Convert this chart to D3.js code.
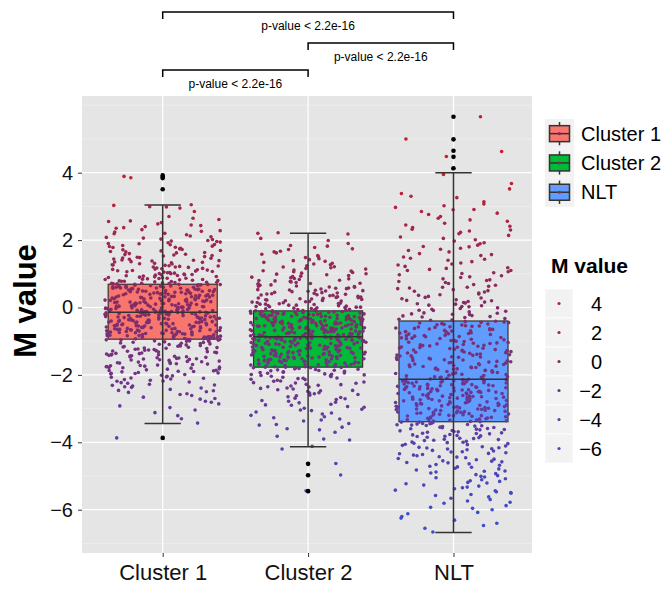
<!DOCTYPE html>
<html>
<head>
<meta charset="utf-8">
<script src="https://cdn.jsdelivr.net/npm/d3@7"></script>
<style>
  body { margin: 0; background: #fff; }
  text { font-family: "Liberation Sans", Arial, sans-serif; }
</style>
</head>
<body>
<script>
// categories and box colours
var groups = ["Cluster 1", "Cluster 2", "NLT"];
var boxFills = ["#F8766D", "#00BA38", "#619CFF"];

// box summary: q1, median, q3, lower whisker, upper whisker
var q1 = [-0.94, -1.77, -3.39];
var medians = [-0.14, -0.87, -2.13];
var q3 = [0.69, -0.10, -0.40];
var whiskLow = [-3.44, -4.13, -6.68];
var whiskHigh = [3.04, 2.20, 4.00];
var outliers = [
  [3.92, 3.87, 3.84, 3.51, -3.87],
  [-4.64, -4.98, -5.45],
  [5.66, 4.99, 4.65, 4.47, 4.13]
];

// jittered M values per group (two batches each)
var cluster1Values = [-3.87,-3.43,-3.21,-3.04,-2.97,-2.86,-2.81,-2.72,-2.7,-2.61,
-2.58,-2.52,-2.47,-2.46,-2.39,-2.35,-2.31,-2.3,-2.25,-2.21,
-2.19,-2.16,-2.1,-2.09,-2.06,-2.03,-2.01,-1.97,-1.95,-1.93,
-1.89,-1.87,-1.85,-1.8,-1.78,-1.77,-1.73,-1.72,-1.68,-1.65,
-1.63,-1.62,-1.57,-1.55,-1.54,-1.5,-1.49,-1.47,-1.45,-1.41,
-1.4,-1.38,-1.35,-1.34,-1.3,-1.29,-1.28,-1.25,-1.22,-1.21,
-1.18,-1.17,-1.13,-1.12,-1.11,-1.08,-1.06,-1.05,-1.02,-1.01,
-0.99,-0.98,-0.96,-0.96,-0.94,-0.93,-0.92,-0.9,-0.89,-0.88,
-0.87,-0.87,-0.85,-0.84,-0.82,-0.81,-0.81,-0.79,-0.78,-0.76,
-0.76,-0.75,-0.73,-0.72,-0.71,-0.71,-0.69,-0.68,-0.67,-0.66,
-0.65,-0.63,-0.63,-0.62,-0.6,-0.59,-0.59,-0.57,-0.56,-0.55,
-0.54,-0.53,-0.51,-0.51,-0.49,-0.48,-0.47,-0.46,-0.44,-0.44,
-0.43,-0.42,-0.4,-0.4,-0.38,-0.37,-0.36,-0.34,-0.34,-0.33,
-0.32,-0.3,-0.3,-0.29,-0.28,-0.26,-0.26,-0.24,-0.23,-0.22,
-0.21,-0.2,-0.19,-0.18,-0.17,-0.16,-0.15,-0.15,-0.14,-0.14,
-0.13,-0.12,-0.1,-0.1,-0.08,-0.07,-0.06,-0.05,-0.03,-0.03,
-0.02,-0.01,0.0,0.02,0.03,0.04,0.04,0.06,0.07,0.08,
0.1,0.11,0.11,0.13,0.14,0.15,0.17,0.18,0.18,0.2,
0.21,0.22,0.24,0.25,0.25,0.27,0.28,0.29,0.31,0.32,
0.33,0.33,0.35,0.36,0.38,0.39,0.39,0.41,0.42,0.43,
0.45,0.46,0.47,0.47,0.49,0.5,0.52,0.53,0.53,0.55,
0.56,0.57,0.59,0.6,0.6,0.62,0.63,0.64,0.66,0.67,
0.68,0.69,0.7,0.72,0.73,0.75,0.76,0.78,0.79,0.81,
0.83,0.84,0.86,0.88,0.89,0.91,0.93,0.95,0.97,0.98,
1.0,1.02,1.04,1.06,1.07,1.1,1.12,1.13,1.16,1.19,
1.2,1.23,1.26,1.27,1.31,1.33,1.35,1.38,1.41,1.43,
1.47,1.49,1.53,1.56,1.58,1.62,1.66,1.68,1.72,1.76,
1.79,1.82,1.87,1.9,1.94,1.97,2.02,2.06,2.1,2.16,
2.19,2.24,2.28,2.35,2.4,2.45,2.52,2.57,2.65,2.95,
2.98,3.05,3.85,3.89];

var cluster1More = [-3.3,-3.12,-2.92,-2.78,-2.66,-2.56,-2.5,-2.43,-2.37,-2.33,
-2.28,-2.23,-2.18,-2.14,-2.12,-2.07,-2.04,
-1.99,-1.96,-1.94,-1.91,-1.9,-1.88,-1.86,-1.83,-1.82,-1.79,
-1.76,-1.75,-1.74,-1.71,-1.69,-1.67,-1.66,-1.64,-1.61,-1.6,
-1.59,-1.56,-1.53,-1.52,-1.51,-1.48,-1.46,-1.44,-1.43,-1.42,
-1.39,-1.37,-1.36,-1.33,-1.32,-1.31,-1.27,-1.26,-1.24,-1.23,
-1.2,-1.19,-1.16,-1.15,-1.14,-1.1,-1.09,-1.07,-1.04,-1.03,
-1.0,-0.99,-0.97,-0.95,-0.94,
-0.93,-0.92,-0.91,-0.9,-0.88,-0.87,-0.86,-0.85,-0.84,-0.83,
-0.82,-0.8,-0.79,-0.78,-0.77,-0.77,-0.75,-0.74,-0.73,-0.72,
-0.7,-0.69,-0.68,-0.67,-0.66,-0.65,-0.64,-0.62,-0.61,-0.6,
-0.58,-0.57,-0.56,-0.55,-0.54,-0.52,-0.52,-0.5,-0.49,-0.48,
-0.47,-0.45,-0.45,-0.43,-0.42,-0.41,-0.39,-0.39,-0.37,-0.36,
-0.35,-0.35,-0.33,-0.32,-0.31,-0.29,-0.28,-0.27,-0.27,-0.25,
-0.24,-0.23,-0.22,-0.21,-0.2,-0.19,-0.18,-0.17,-0.16,-0.16,
-0.15,-0.15,-0.14,-0.14,-0.13,-0.12,-0.11,-0.11,
-0.09,-0.09,-0.08,-0.06,-0.05,-0.04,-0.04,-0.02,-0.01,0.01,
0.01,0.02,0.03,0.05,0.05,0.06,0.08,0.09,0.09,0.11,
0.12,0.13,0.14,0.16,0.16,0.17,0.19,0.2,0.21,0.22,
0.23,0.24,0.26,0.26,0.28,0.29,0.3,0.31,0.32,0.34,
0.34,0.36,0.37,0.38,0.4,0.4,0.41,0.43,0.44,0.45,
0.46,0.48,0.48,0.5,0.51,0.52,0.54,0.54,0.55,0.57,
0.58,0.58,0.6,0.61,0.62,0.64,0.65,0.65,0.67,0.68,
0.69,0.7,0.71,0.72,0.74,0.75,0.77,0.78,
0.8,0.82,0.83,0.85,0.87,0.87,0.9,0.92,0.94,0.96,
0.97,0.99,1.01,1.03,1.05,1.08,1.09,1.11,1.14,1.15,
1.17,1.2,1.22,1.24,1.25,1.29,1.3,1.34,1.36,1.39,
1.4,1.44,1.46,1.48,1.51,1.54,1.57,1.6,1.63,1.65,
1.69,1.71,1.74,1.78,1.81,1.84,1.86,1.89,1.92,1.96,
1.99,2.03,2.08,2.12,2.2,
2.26,2.31,2.37,2.43,2.48,2.55,2.61,2.7,2.85,2.99,3.03];

var cluster2Values = [-5.44,-4.97,-4.63,-4.12,-3.93,-3.9,-3.7,-3.63,-3.55,-3.49,
-3.44,-3.37,-3.31,-3.27,-3.2,-3.16,-3.1,-3.06,-3.02,-2.99,
-2.94,-2.9,-2.87,-2.83,-2.78,-2.76,-2.71,-2.69,-2.65,-2.62,
-2.58,-2.56,-2.53,-2.49,-2.47,-2.44,-2.4,-2.39,-2.36,-2.33,
-2.31,-2.28,-2.25,-2.23,-2.21,-2.18,-2.16,-2.13,-2.11,-2.09,
-2.07,-2.04,-2.03,-2.0,-1.99,-1.97,-1.94,-1.93,-1.91,-1.89,
-1.87,-1.85,-1.84,-1.82,-1.81,-1.79,-1.78,-1.77,-1.76,-1.74,
-1.73,-1.72,-1.7,-1.69,-1.68,-1.67,-1.65,-1.64,-1.63,-1.62,
-1.61,-1.59,-1.58,-1.57,-1.56,-1.55,-1.53,-1.52,-1.51,-1.5,
-1.49,-1.47,-1.46,-1.45,-1.44,-1.43,-1.41,-1.4,-1.39,-1.38,
-1.37,-1.36,-1.34,-1.33,-1.32,-1.31,-1.3,-1.28,-1.28,-1.26,
-1.25,-1.24,-1.23,-1.21,-1.21,-1.19,-1.18,-1.17,-1.16,-1.15,
-1.14,-1.12,-1.12,-1.1,-1.09,-1.08,-1.07,-1.06,-1.04,-1.04,
-1.03,-1.01,-1.0,-0.99,-0.98,-0.97,-0.96,-0.95,-0.94,-0.93,
-0.92,-0.91,-0.9,-0.9,-0.89,-0.88,-0.88,-0.87,-0.87,-0.86,
-0.85,-0.84,-0.84,-0.82,-0.81,-0.8,-0.79,-0.78,-0.76,-0.76,
-0.75,-0.74,-0.72,-0.72,-0.71,-0.7,-0.68,-0.68,-0.67,-0.65,
-0.65,-0.64,-0.62,-0.62,-0.61,-0.6,-0.58,-0.58,-0.57,-0.56,
-0.55,-0.53,-0.53,-0.52,-0.5,-0.5,-0.49,-0.47,-0.47,-0.46,
-0.45,-0.44,-0.42,-0.42,-0.41,-0.39,-0.39,-0.38,-0.36,-0.36,
-0.35,-0.34,-0.32,-0.32,-0.31,-0.3,-0.28,-0.28,-0.26,-0.26,
-0.25,-0.23,-0.23,-0.22,-0.2,-0.2,-0.19,-0.17,-0.17,-0.16,
-0.15,-0.14,-0.12,-0.12,-0.11,-0.1,-0.08,-0.06,-0.05,-0.02,
0.0,0.01,0.04,0.06,0.07,0.1,0.12,0.13,0.16,0.18,
0.2,0.22,0.24,0.27,0.29,0.31,0.33,0.36,0.38,0.41,
0.43,0.45,0.48,0.51,0.53,0.56,0.58,0.61,0.64,0.67,
0.7,0.72,0.76,0.79,0.81,0.85,0.88,0.92,0.95,0.99,
1.02,1.06,1.09,1.14,1.18,1.21,1.27,1.31,1.37,1.42,
1.48,1.54,1.62,1.67,1.72,1.78,1.84,1.99,2.18,2.22];

var cluster2More = [-4.2,-3.82,-3.6,-3.47,-3.34,-3.24,-3.13,-3.04,-2.96,-2.89,
-2.81,-2.73,-2.67,-2.6,-2.54,-2.46,-2.42,-2.35,-2.29,-2.24,
-2.19,-2.14,-2.1,-2.05,-2.02,-1.98,-1.95,-1.92,-1.88,-1.86,
-1.83,-1.8,-1.79,-1.77,
-1.76,-1.75,-1.73,-1.71,-1.7,-1.69,-1.66,-1.65,-1.64,-1.62,
-1.6,-1.6,-1.58,-1.56,-1.55,-1.54,-1.52,-1.51,-1.49,-1.48,
-1.47,-1.46,-1.44,-1.42,-1.42,-1.4,-1.39,-1.37,-1.36,-1.35,
-1.34,-1.32,-1.31,-1.29,-1.28,-1.27,-1.26,-1.24,-1.23,-1.22,
-1.2,-1.19,-1.18,-1.17,-1.15,-1.14,-1.13,-1.11,-1.1,-1.09,
-1.08,-1.06,-1.05,-1.05,-1.03,-1.02,-1.01,-0.99,-0.98,-0.97,
-0.96,-0.95,-0.94,-0.93,-0.92,-0.91,-0.91,-0.9,-0.89,-0.89,
-0.88,-0.88,-0.87,-0.86,-0.86,
-0.85,-0.83,-0.83,-0.82,-0.81,-0.8,-0.78,-0.77,-0.77,-0.75,
-0.74,-0.73,-0.73,-0.71,-0.7,-0.69,-0.69,-0.67,-0.66,-0.66,
-0.64,-0.63,-0.63,-0.61,-0.6,-0.59,-0.59,-0.57,-0.56,-0.55,
-0.54,-0.54,-0.52,-0.51,-0.51,-0.49,-0.48,-0.48,-0.46,-0.45,
-0.44,-0.43,-0.43,-0.41,-0.4,-0.4,-0.38,-0.37,-0.37,-0.35,
-0.34,-0.33,-0.33,-0.31,-0.3,-0.29,-0.29,-0.27,-0.27,-0.25,
-0.24,-0.24,-0.22,-0.21,-0.21,-0.19,-0.18,-0.18,-0.16,-0.15,
-0.14,-0.13,-0.12,-0.11,-0.1,
-0.09,-0.07,-0.06,-0.04,-0.03,-0.01,0.01,0.02,0.03,0.05,
0.07,0.09,0.1,0.11,0.14,0.15,0.17,0.19,0.21,0.23,
0.25,0.26,0.28,0.3,0.32,0.35,0.37,0.39,0.4,0.42,
0.44,0.47,0.49,0.5,0.52,0.55,0.57,0.6,0.62,0.63,
0.66,0.69,0.71,0.74,0.77,0.8,0.83,0.86,0.9,0.93,
0.97,1.0,1.04,1.08,1.11,1.16,1.2,1.24,1.29,1.34,
1.39,1.45,1.51,1.58,1.65,1.74,1.82,1.9,2.05,2.2];

var nltValues = [-6.66,-6.47,-6.31,-6.2,-6.12,-5.96,-5.93,-5.81,-5.74,-5.66,
-5.58,-5.51,-5.47,-5.42,-5.35,-5.3,-5.23,-5.19,-5.14,-5.08,
-5.03,-4.99,-4.93,-4.88,-4.85,-4.79,-4.74,-4.71,-4.66,-4.61,
-4.58,-4.55,-4.5,-4.46,-4.43,-4.38,-4.34,-4.31,-4.28,-4.24,
-4.2,-4.17,-4.15,-4.11,-4.07,-4.04,-4.01,-3.99,-3.95,-3.92,
-3.89,-3.86,-3.82,-3.8,-3.77,-3.74,-3.72,-3.69,-3.66,-3.63,
-3.61,-3.59,-3.56,-3.53,-3.51,-3.49,-3.46,-3.44,-3.42,-3.4,
-3.38,-3.37,-3.35,-3.33,-3.31,-3.29,-3.28,-3.26,-3.24,-3.22,
-3.21,-3.19,-3.17,-3.16,-3.14,-3.12,-3.11,-3.09,-3.07,-3.06,
-3.04,-3.02,-3.01,-2.99,-2.97,-2.96,-2.94,-2.92,-2.91,-2.89,
-2.88,-2.86,-2.84,-2.83,-2.81,-2.8,-2.78,-2.77,-2.75,-2.73,
-2.72,-2.7,-2.69,-2.67,-2.66,-2.64,-2.63,-2.61,-2.59,-2.58,
-2.56,-2.55,-2.53,-2.52,-2.5,-2.49,-2.47,-2.46,-2.44,-2.43,
-2.41,-2.39,-2.38,-2.36,-2.35,-2.33,-2.32,-2.3,-2.29,-2.27,
-2.26,-2.24,-2.23,-2.21,-2.19,-2.18,-2.17,-2.15,-2.14,-2.13,
-2.11,-2.08,-2.07,-2.05,-2.02,-1.99,-1.97,-1.96,-1.93,-1.9,
-1.88,-1.86,-1.83,-1.82,-1.79,-1.76,-1.75,-1.72,-1.69,-1.68,
-1.65,-1.62,-1.61,-1.58,-1.55,-1.54,-1.51,-1.48,-1.47,-1.44,
-1.41,-1.39,-1.38,-1.34,-1.32,-1.31,-1.27,-1.25,-1.24,-1.2,
-1.18,-1.17,-1.13,-1.11,-1.1,-1.06,-1.04,-1.03,-0.99,-0.97,
-0.96,-0.92,-0.9,-0.89,-0.85,-0.83,-0.82,-0.78,-0.76,-0.75,
-0.71,-0.69,-0.68,-0.64,-0.62,-0.61,-0.57,-0.55,-0.54,-0.5,
-0.48,-0.46,-0.43,-0.41,-0.38,-0.35,-0.3,-0.27,-0.24,-0.19,
-0.16,-0.11,-0.08,-0.03,0.02,0.05,0.1,0.13,0.18,0.21,
0.26,0.3,0.36,0.4,0.46,0.5,0.56,0.6,0.66,0.71,
0.77,0.82,0.89,0.94,1.01,1.06,1.13,1.18,1.26,1.32,
1.4,1.46,1.54,1.6,1.69,1.76,1.85,1.92,2.01,2.09,
2.19,2.27,2.37,2.45,2.56,2.65,2.76,2.85,2.97,3.07,
3.3,3.95,4.12,4.48,4.63,5.0,5.66];

var nltMore = [-6.55,-6.4,-6.25,-6.08,-6.0,-5.88,-5.78,-5.7,-5.62,-5.55,
-5.49,-5.44,-5.38,-5.33,-5.27,-5.21,-5.16,-5.11,-5.05,-5.01,
-4.96,-4.91,-4.86,-4.82,-4.77,-4.73,-4.68,-4.64,-4.6,-4.56,
-4.52,-4.48,-4.44,-4.4,-4.36,-4.33,-4.29,-4.26,-4.22,-4.19,
-4.16,-4.13,-4.09,-4.06,-4.03,-4.0,-3.97,-3.94,-3.91,-3.88,
-3.85,-3.83,-3.81,-3.78,-3.75,-3.73,-3.7,-3.68,-3.65,-3.62,
-3.6,-3.57,-3.55,-3.52,-3.5,-3.48,-3.47,-3.45,-3.43,-3.41,
-3.4,-3.39,-3.36,-3.34,-3.32,
-3.3,-3.28,-3.27,-3.25,-3.23,-3.21,-3.2,-3.18,-3.16,-3.15,
-3.13,-3.11,-3.1,-3.08,-3.06,-3.05,-3.03,-3.01,-3.0,-2.98,
-2.96,-2.95,-2.93,-2.91,-2.9,-2.88,-2.86,-2.85,-2.83,-2.82,
-2.8,-2.79,-2.77,-2.76,-2.74,-2.72,-2.71,-2.69,-2.68,-2.66,
-2.65,-2.63,-2.62,-2.6,-2.58,-2.57,-2.55,-2.54,-2.52,-2.51,
-2.49,-2.48,-2.46,-2.45,-2.43,-2.42,-2.4,-2.39,-2.37,-2.35,
-2.34,-2.32,-2.31,-2.29,-2.28,-2.26,-2.25,-2.23,-2.22,-2.2,
-2.19,-2.17,-2.16,-2.15,-2.13,
-2.12,-2.1,-2.07,-2.06,-2.03,-2.01,-1.98,-1.96,-1.94,-1.92,
-1.89,-1.87,-1.85,-1.82,-1.8,-1.78,-1.77,-1.74,-1.71,-1.7,
-1.67,-1.64,-1.63,-1.6,-1.57,-1.56,-1.53,-1.5,-1.49,-1.46,
-1.43,-1.42,-1.4,-1.36,-1.35,-1.33,-1.29,-1.28,-1.26,-1.22,
-1.21,-1.19,-1.15,-1.14,-1.12,-1.08,-1.07,-1.05,-1.01,-1.0,
-0.98,-0.94,-0.93,-0.91,-0.87,-0.86,-0.84,-0.8,-0.79,-0.77,
-0.73,-0.72,-0.7,-0.66,-0.65,-0.63,-0.59,-0.58,-0.56,-0.52,
-0.51,-0.49,-0.45,-0.44,-0.42,
-0.37,-0.33,-0.28,-0.25,-0.21,-0.17,-0.13,-0.09,-0.05,-0.01,
0.03,0.07,0.11,0.16,0.2,0.23,0.28,0.33,0.38,0.43,
0.48,0.53,0.58,0.63,0.68,0.74,0.8,0.85,0.91,0.97,
1.03,1.1,1.16,1.22,1.29,1.36,1.43,1.5,1.57,1.65,
1.73,1.81,1.89,1.97,2.05,2.14,2.23,2.32,2.41,2.5,
2.6,2.7,2.8,2.91,3.02,3.14,3.26,3.38,3.52,3.68,
2.3,1.1,0.6,0.15,-0.2,1.8,2.9];

var groupValues = [
  cluster1Values.concat(cluster1More),
  cluster2Values.concat(cluster2More),
  nltValues.concat(nltMore)
];

// colour legend
var legendValues = [4, 2, 0, -2, -4, -6];
var legendLabels = ["4", "2", "0", "\u22122", "\u22124", "\u22126"];
var yTicks = [-6, -4, -2, 0, 2, 4];
var yMinor = [-7, -5, -3, -1, 1, 3, 5, 6];
var pLabel = "p-value < 2.2e-16";
// comparisons [from group, to group]
var comparisons = [[0, 2], [1, 2], [0, 1]];

var svgWidth = 667, svgHeight = 589;
var panel = {left: 82, right: 532, top: 96, bottom: 553};

var svg = d3.select("body").append("svg")
    .attr("width", svgWidth)
    .attr("height", svgHeight);

var x = d3.scaleLinear().domain([0.445, 3.54]).range([panel.left, panel.right]);
var y = d3.scaleLinear().domain([-7.285, 6.276]).range([panel.bottom, panel.top]);

var colour = d3.scaleLinear()
    .domain([-6, -4, -2, 0, 2, 4])
    .range(["#3d4ccc", "#5a3fa8", "#703488", "#822c66", "#a0264c", "#c41f30"])
    .clamp(true);

// panel background + grid
svg.append("rect")
    .attr("x", panel.left).attr("y", panel.top)
    .attr("width", panel.right - panel.left)
    .attr("height", panel.bottom - panel.top)
    .attr("fill", "#e5e5e5");

svg.selectAll(".minor").data(yMinor).enter().append("line")
    .attr("x1", panel.left).attr("x2", panel.right)
    .attr("y1", function(d){ return y(d); })
    .attr("y2", function(d){ return y(d); })
    .attr("stroke", "#f2f2f2").attr("stroke-width", 0.6);

svg.selectAll(".major").data(yTicks).enter().append("line")
    .attr("x1", panel.left).attr("x2", panel.right)
    .attr("y1", function(d){ return y(d); })
    .attr("y2", function(d){ return y(d); })
    .attr("stroke", "#fff").attr("stroke-width", 1.2);

svg.selectAll(".vmajor").data(groups).enter().append("line")
    .attr("x1", function(d, i){ return x(i + 1); })
    .attr("x2", function(d, i){ return x(i + 1); })
    .attr("y1", panel.top).attr("y2", panel.bottom)
    .attr("stroke", "#fff").attr("stroke-width", 1.2);

// axes
var yAxis = svg.append("g")
    .attr("transform", "translate(" + panel.left + ",0)")
    .call(d3.axisLeft(y).tickValues(yTicks).tickSize(4).tickPadding(5)
      .tickFormat(function(d){ return d < 0 ? "\u2212" + Math.abs(d) : d; }));
yAxis.select(".domain").remove();
yAxis.selectAll("line").attr("stroke", "#333");
yAxis.selectAll("text").attr("font-size", "20px").attr("fill", "#111")
    .style("font-family", "Liberation Sans, Arial, sans-serif");

var xAxis = svg.append("g")
    .attr("transform", "translate(0," + panel.bottom + ")")
    .call(d3.axisBottom(x).tickValues([1, 2, 3]).tickSize(4).tickPadding(7)
      .tickFormat(function(d){ return groups[d - 1]; }));
xAxis.select(".domain").remove();
xAxis.selectAll("line").attr("stroke", "#333");
xAxis.selectAll("text").attr("font-size", "22px").attr("fill", "#111")
    .style("font-family", "Liberation Sans, Arial, sans-serif");

svg.append("text")
    .attr("transform", "translate(36,301) rotate(-90)")
    .attr("text-anchor", "middle")
    .attr("font-size", "31px").attr("font-weight", "bold")
    .text("M value");

var boxW = 0.375, capW = 0.125;

// box fills
svg.selectAll(".boxfill").data(groups).enter().append("rect")
    .attr("x", function(d, i){ return x(i + 1 - boxW); })
    .attr("width", function(d, i){ return x(i + 1 + boxW) - x(i + 1 - boxW); })
    .attr("y", function(d, i){ return y(q3[i]); })
    .attr("height", function(d, i){ return y(q1[i]) - y(q3[i]); })
    .attr("fill", function(d, i){ return boxFills[i]; })
    .attr("stroke", "#333").attr("stroke-width", 1.2);

// jittered points
function jit(i, g){
  var s = Math.sin((i + 1) * 127.1 + (g + 1) * 311.7) * 43758.5453;
  return s - Math.floor(s);
}
groupValues.forEach(function(vals, g){
  svg.append("g").selectAll("circle").data(vals).enter().append("circle")
      .attr("cx", function(d, i){ return x(g + 1 + (jit(i, g) - 0.5) * 0.8); })
      .attr("cy", function(d){ return y(d); })
      .attr("r", 1.8)
      .attr("fill", function(d){ return colour(d); });
});

// medians
svg.selectAll(".median").data(groups).enter().append("line")
    .attr("x1", function(d, i){ return x(i + 1 - boxW); })
    .attr("x2", function(d, i){ return x(i + 1 + boxW); })
    .attr("y1", function(d, i){ return y(medians[i]); })
    .attr("y2", function(d, i){ return y(medians[i]); })
    .attr("stroke", "#333").attr("stroke-width", 1.5);

// error bars
groups.forEach(function(d, i){
  var eg = svg.append("g").attr("stroke", "#333").attr("stroke-width", 1.5);
  eg.append("line")
    .attr("x1", x(i + 1)).attr("x2", x(i + 1))
    .attr("y1", y(whiskLow[i])).attr("y2", y(whiskHigh[i]));
  [whiskLow[i], whiskHigh[i]].forEach(function(v){
    eg.append("line")
      .attr("x1", x(i + 1 - capW)).attr("x2", x(i + 1 + capW))
      .attr("y1", y(v)).attr("y2", y(v));
  });
});

// outliers
outliers.forEach(function(vals, g){
  svg.append("g").selectAll("circle").data(vals).enter().append("circle")
      .attr("cx", x(g + 1))
      .attr("cy", function(d){ return y(d); })
      .attr("r", 2.3)
      .attr("fill", "#000");
});

// significance brackets
var bracketY = [12, 43, 70];
comparisons.forEach(function(c, k){
  var x1 = x(c[0] + 1), x2 = x(c[1] + 1), by = bracketY[k];
  svg.append("path")
    .attr("d", "M" + x1 + "," + (by + 7) + "V" + by + "H" + x2 + "V" + (by + 7))
    .attr("fill", "none").attr("stroke", "#000").attr("stroke-width", 1.5);
  svg.append("text")
    .attr("x", (x1 + x2) / 2).attr("y", by + 18)
    .attr("text-anchor", "middle")
    .attr("font-size", "12px")
    .text(pLabel);
});

// fill legend
var rowH = 29.3;
groups.forEach(function(name, i){
  var top = 119 + i * rowH, cx = 559.5, cy = top + rowH / 2;
  var lg = svg.append("g");
  lg.append("rect").attr("x", 545).attr("y", top)
    .attr("width", 29).attr("height", rowH).attr("fill", "#f2f2f2");
  lg.append("line").attr("x1", cx).attr("x2", cx)
    .attr("y1", top + 3).attr("y2", top + rowH - 3)
    .attr("stroke", "#333").attr("stroke-width", 1.5);
  lg.append("rect").attr("x", cx - 10).attr("y", cy - 8)
    .attr("width", 20).attr("height", 16)
    .attr("fill", boxFills[i]).attr("stroke", "#333").attr("stroke-width", 1.5);
  lg.append("line").attr("x1", cx - 10).attr("x2", cx + 10)
    .attr("y1", cy).attr("y2", cy)
    .attr("stroke", "#333").attr("stroke-width", 1.5);
  lg.append("circle").attr("cx", cx).attr("cy", cy).attr("r", 1.6)
    .attr("fill", "#822c66");
  lg.append("text").attr("x", 581).attr("y", cy + 7)
    .attr("font-size", "20px").text(name);
});

// colour legend
svg.append("text").attr("x", 551).attr("y", 273)
    .attr("font-size", "21px").attr("font-weight", "bold")
    .text("M value");
legendValues.forEach(function(v, i){
  var top = 289 + i * 29, cy = top + 14.5;
  svg.append("rect").attr("x", 545).attr("y", top)
    .attr("width", 28).attr("height", 29).attr("fill", "#f2f2f2")
    .attr("stroke", "#fff").attr("stroke-width", 0.8);
  svg.append("circle").attr("cx", 559).attr("cy", cy).attr("r", 1.6)
    .attr("fill", colour(v));
  svg.append("text").attr("x", 602).attr("y", cy + 7)
    .attr("text-anchor", "end")
    .attr("font-size", "20px").text(legendLabels[i]);
});
</script>
</body>
</html>
